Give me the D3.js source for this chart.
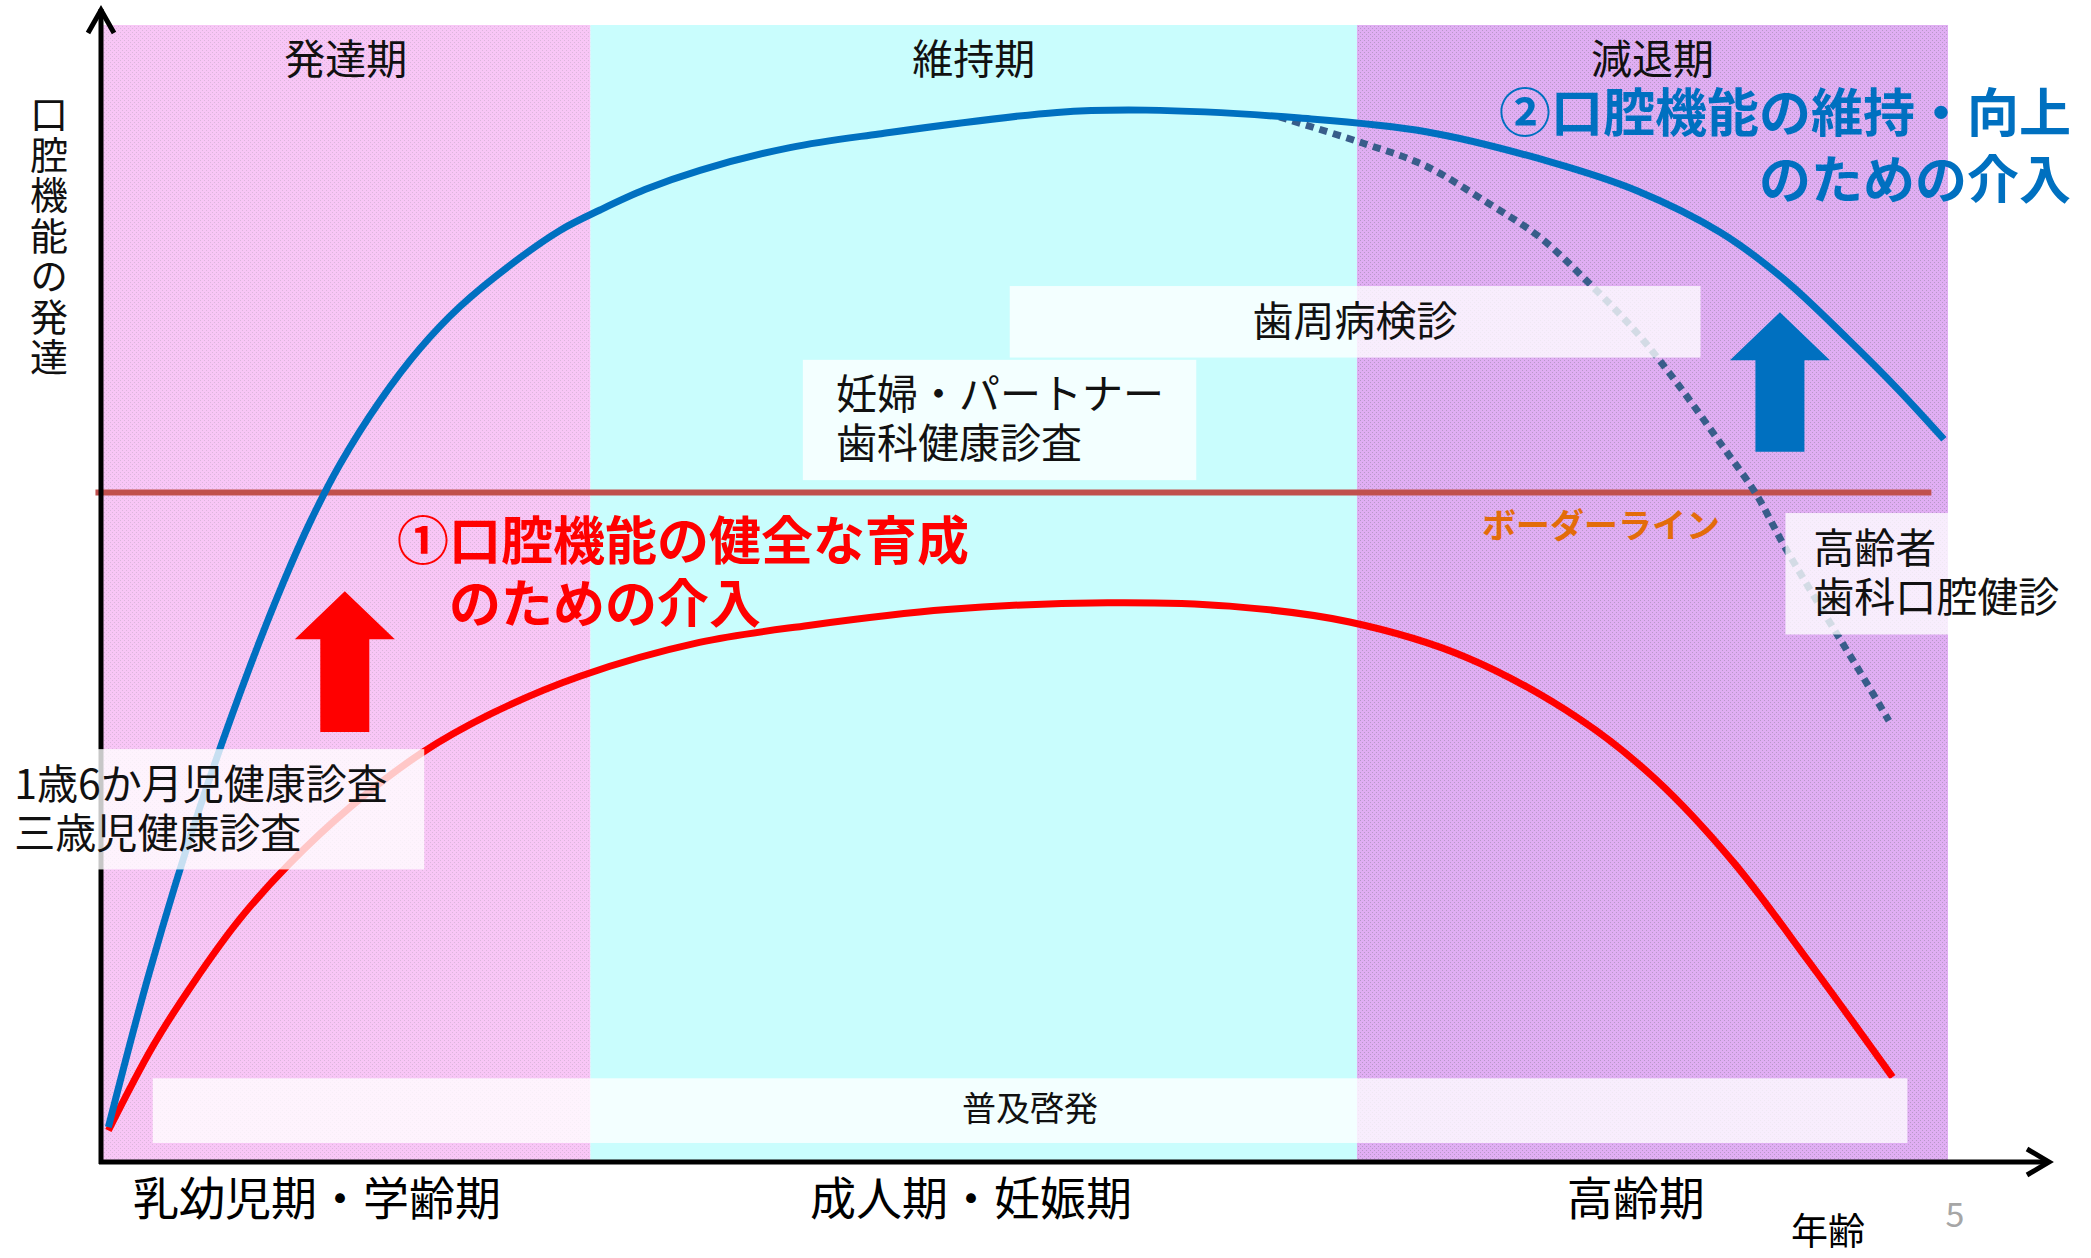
<!DOCTYPE html>
<html>
<head>
<meta charset="utf-8">
<title>口腔機能の発達</title>
<script src="https://d3js.org/d3.v7.min.js"></script>
<style>
  body { margin: 0; background: #fff; }
  svg text { font-family: "Noto Sans CJK JP", "Noto Sans", sans-serif; }
  .note { font-size: 41px; fill: #111; }
  .big { font-size: 52px; font-weight: 700; }
</style>
</head>
<body>
<div id="chart"></div>
<script>
// --- data (age 0-100 on x, oral function level 0-100 on y) ---
const phases = ["発達期", "維持期", "減退期"];
const phaseFrom = [0, 26.5, 68];
const phaseTo = [26.5, 68, 100];

const stages = ["乳幼児期・学齢期", "成人期・妊娠期", "高齢期"];
const stageAge = [11.7, 47.1, 83.1];

// blue: with intervention
const blueAge = [0.4, 2.65, 5.36, 8.07, 9.85, 11.32, 12.94, 15.11, 17.27, 19.44, 22.2, 24.85, 27.02, 29.45, 32.43, 37.3, 42.12, 51.76, 56.58, 64.92, 71.74, 78.56, 83.16, 87.71, 91.12, 94.53, 97.29, 99.78];
const blueLevel = [2.9, 16.7, 31.1, 43.5, 50.8, 56.2, 61.3, 66.9, 71.5, 75.2, 78.9, 81.9, 83.7, 85.5, 87.2, 89.2, 90.4, 92.3, 92.5, 91.8, 90.6, 87.9, 85.4, 81.7, 77.6, 72.4, 67.9, 63.5];

// red: without intervention
const redAge = [0.4, 2.8, 5.0, 7.5, 10.2, 13.5, 17.4, 21.1, 25.9, 32.4, 38.3, 45.8, 54.5, 61.1, 67.6, 73.9, 80.1, 84.2, 88.4, 92.5, 97.0];
const redLevel = [2.6, 10.0, 15.6, 21.2, 26.1, 31.1, 35.9, 39.3, 42.6, 45.6, 47.1, 48.5, 49.1, 48.8, 47.4, 44.3, 38.8, 33.5, 26.2, 17.4, 7.3];

// dotted: decline without maintenance
const dotAge = [63.8, 68.3, 71.7, 75.2, 77.9, 80.6, 83.2, 85.4, 87.7, 89.6, 91.1, 93.4, 95.2, 96.8];
const dotLevel = [91.9, 89.6, 87.6, 84.2, 81.3, 77.2, 72.8, 68.3, 63.1, 58.7, 54.2, 47.9, 43.1, 38.7];

const borderLevel = 58.8;
const borderFrom = -0.3, borderTo = 99.1;

// up arrows: [age, fromLevel, toLevel]
const arrowAge = [13.2, 90.9];
const arrowFrom = [37.7, 62.4];
const arrowTo = [50.1, 74.7];

// --- layout ---
const W = 2091, H = 1258;
const x = d3.scaleLinear().domain([0, 100]).range([101, 1948]);
const y = d3.scaleLinear().domain([0, 100]).range([1160, 25]);

const svg = d3.select("#chart").append("svg")
  .attr("width", W).attr("height", H);

// textured backgrounds
const bgColors = ["#f8c6f6", "#c9fdfd", "#e0aef3"];
const dotColors = ["#dcb6dc", "#c9fdfd", "#b898c8"];
const defs = svg.append("defs");
bgColors.forEach((c, i) => {
  const p = defs.append("pattern").attr("id", "tex" + i)
    .attr("patternUnits", "userSpaceOnUse").attr("width", 4).attr("height", 4);
  p.append("rect").attr("width", 4).attr("height", 4).attr("fill", c);
  p.append("rect").attr("x", 0).attr("y", 0).attr("width", 1).attr("height", 1).attr("fill", dotColors[i]);
  p.append("rect").attr("x", 2).attr("y", 2).attr("width", 1).attr("height", 1).attr("fill", dotColors[i]);
});

svg.selectAll(".band").data(phases).enter().append("rect")
  .attr("x", (d, i) => x(phaseFrom[i]))
  .attr("width", (d, i) => x(phaseTo[i]) - x(phaseFrom[i]))
  .attr("y", y(100))
  .attr("height", y(0) - y(100))
  .attr("fill", (d, i) => `url(#tex${i})`);

svg.selectAll(".phase").data(phases).enter().append("text")
  .attr("class", "note")
  .attr("x", (d, i) => x((phaseFrom[i] + phaseTo[i]) / 2))
  .attr("y", 56)
  .attr("text-anchor", "middle")
  .attr("dominant-baseline", "central")
  .text(d => d);

// border line
svg.append("line")
  .attr("x1", x(borderFrom)).attr("x2", x(borderTo))
  .attr("y1", y(borderLevel)).attr("y2", y(borderLevel))
  .attr("stroke", "#c0504d").attr("stroke-width", 6);

svg.append("text")
  .attr("x", 1601).attr("y", 523)
  .attr("text-anchor", "middle").attr("dominant-baseline", "central")
  .attr("font-size", 34).attr("font-weight", 700)
  .attr("fill", "#e36c0a")
  .text("ボーダーライン");

// curves
const line = d3.line().x(d => x(d[0])).y(d => y(d[1])).curve(d3.curveCatmullRom.alpha(0.5));
const zip = (a, b) => a.map((v, i) => [v, b[i]]);

svg.append("path").datum(zip(dotAge, dotLevel))
  .attr("d", line).attr("fill", "none")
  .attr("stroke", "#385d8a").attr("stroke-width", 7)
  .attr("stroke-dasharray", "8,6");

svg.append("path").datum(zip(redAge, redLevel))
  .attr("d", line).attr("fill", "none")
  .attr("stroke", "#ff0000").attr("stroke-width", 7);

svg.append("path").datum(zip(blueAge, blueLevel))
  .attr("d", line).attr("fill", "none")
  .attr("stroke", "#0070c0").attr("stroke-width", 7);

// up arrows
const arrowColors = ["#ff0000", "#0070c0"];
arrowAge.forEach((a, i) => {
  const cx = x(a), top = y(arrowTo[i]), bot = y(arrowFrom[i]);
  const hw = 50, sw = 24.5, hl = 48;
  svg.append("path")
    .attr("d", `M${cx},${top} L${cx + hw},${top + hl} L${cx + sw},${top + hl} L${cx + sw},${bot} L${cx - sw},${bot} L${cx - sw},${top + hl} L${cx - hw},${top + hl} Z`)
    .attr("fill", arrowColors[i]);
});

// axes
const axisG = svg.append("g").attr("stroke", "#000").attr("stroke-width", 5).attr("fill", "none");
axisG.append("line").attr("x1", x(0)).attr("x2", x(0)).attr("y1", y(0) + 4).attr("y2", y(100) - 16);
axisG.append("path").attr("d", `M${x(0) - 13},${y(100) + 8} L${x(0)},${y(100) - 15} L${x(0) + 13},${y(100) + 8}`);
axisG.append("line").attr("x1", x(0) - 2).attr("x2", x(100) + 100).attr("y1", y(0) + 2).attr("y2", y(0) + 2);
axisG.append("path").attr("d", `M${x(100) + 79},${y(0) - 11} L${x(100) + 101},${y(0) + 2} L${x(100) + 79},${y(0) + 15}`);

// annotation boxes (age/level units)
const boxes = [
  { x0: -0.2, x1: 17.5, y0: 25.6, y1: 36.2, lines: ["1歳6か月児健康診査", "三歳児健康診査"], tx: -4.7, anchor: "start" },
  { x0: 38.0, x1: 59.3, y0: 59.9, y1: 70.5, lines: ["妊婦・パートナー", "歯科健康診査"], tx: 39.8, anchor: "start" },
  { x0: 49.2, x1: 86.6, y0: 70.7, y1: 77.0, lines: ["歯周病検診"], tx: 67.9, anchor: "middle" },
  { x0: 91.2, x1: 100.1, y0: 46.3, y1: 57.0, lines: ["高齢者", "歯科口腔健診"], tx: 92.7, anchor: "start" },
  { x0: 2.8, x1: 97.8, y0: 1.5, y1: 7.2, lines: ["普及啓発"], tx: 50.3, anchor: "middle", size: 34 }
];

boxes.forEach(b => {
  svg.append("rect")
    .attr("x", x(b.x0)).attr("width", x(b.x1) - x(b.x0))
    .attr("y", y(b.y1)).attr("height", y(b.y0) - y(b.y1))
    .attr("fill", "#fff").attr("fill-opacity", 0.78);
  const cy = (y(b.y0) + y(b.y1)) / 2 - 4;
  const n = b.lines.length;
  b.lines.forEach((t, k) => {
    svg.append("text")
      .attr("class", "note")
      .style("font-size", (b.size || 41) + "px")
      .attr("x", x(b.tx))
      .attr("y", cy + (k - (n - 1) / 2) * 49)
      .attr("text-anchor", b.anchor)
      .attr("dominant-baseline", "central")
      .text(t);
  });
});

// intervention labels
const redLines = ["①口腔機能の健全な育成", "のための介入"];
svg.append("text").attr("class", "big").attr("fill", "#ff0000")
  .attr("x", 397).attr("y", 537).attr("dominant-baseline", "central").text(redLines[0]);
svg.append("text").attr("class", "big").attr("fill", "#ff0000")
  .attr("x", 449).attr("y", 600).attr("dominant-baseline", "central").text(redLines[1]);

const blueLines = ["②口腔機能の維持・向上", "のための介入"];
svg.append("text").attr("class", "big").attr("fill", "#0070c0")
  .attr("x", 2071).attr("y", 109).attr("text-anchor", "end").attr("dominant-baseline", "central").text(blueLines[0]);
svg.append("text").attr("class", "big").attr("fill", "#0070c0")
  .attr("x", 2071).attr("y", 176).attr("text-anchor", "end").attr("dominant-baseline", "central").text(blueLines[1]);

// y axis title (vertical writing)
svg.append("text")
  .attr("x", 49)
  .attr("y", 95)
  .style("writing-mode", "vertical-rl")
  .style("text-orientation", "upright")
  .style("letter-spacing", "2.5px")
  .attr("font-size", 38)
  .attr("fill", "#111")
  .text("口腔機能の発達");

// stage labels under x axis
svg.selectAll(".stage").data(stages).enter().append("text")
  .attr("x", (d, i) => x(stageAge[i]))
  .attr("y", 1195)
  .attr("text-anchor", "middle")
  .attr("dominant-baseline", "central")
  .attr("font-size", 46)
  .attr("fill", "#000")
  .text(d => d);

svg.append("text")
  .attr("x", 1828).attr("y", 1229)
  .attr("text-anchor", "middle").attr("dominant-baseline", "central")
  .attr("font-size", 37).attr("fill", "#000")
  .text("年齢");

svg.append("text")
  .attr("x", 1955).attr("y", 1212)
  .attr("text-anchor", "middle").attr("dominant-baseline", "central")
  .attr("font-size", 34).attr("fill", "#a6a6a6")
  .text("5");
</script>
</body>
</html>
